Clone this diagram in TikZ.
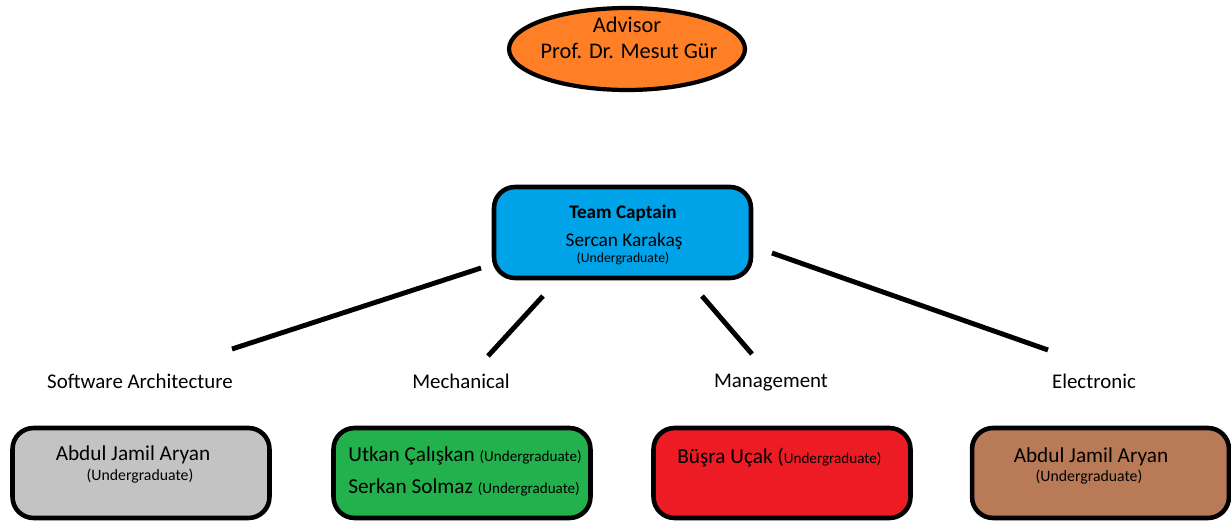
\documentclass[tikz,border=0pt]{standalone}
\usepackage{fontspec}
\setmainfont{Carlito}
\usetikzlibrary{shapes.geometric}

\definecolor{advorange}{RGB}{255,127,39}
\definecolor{capblue}{RGB}{0,162,232}
\definecolor{softgray}{RGB}{195,195,195}
\definecolor{mechgreen}{RGB}{34,177,76}
\definecolor{mgmtred}{RGB}{237,28,36}
\definecolor{elecbrown}{RGB}{185,122,87}

\begin{document}
\begin{tikzpicture}[x=0.02cm,y=-0.02cm]
\tikzset{
  advisornode/.style={ellipse,draw,line width=2.4pt,fill=advorange,minimum width=4.72cm,minimum height=1.64cm,inner sep=0pt},
  teambox/.style={rectangle,rounded corners=0.42cm,draw,line width=2.6pt,minimum width=5.14cm,minimum height=1.8cm,inner sep=0pt},
  branch/.style={line width=2.8pt},
  field/.style={font=\fontsize{11.9}{13}\selectfont,inner sep=0pt},
  person/.style={font=\fontsize{12.1}{15}\selectfont,inner sep=0pt},
  grad/.style={font=\fontsize{9}{10}\selectfont,inner sep=0pt}
}
\useasboundingbox (0,0) rectangle (1231,521);
% advisor
\node[advisornode] (n_adv) at (627,49) {};
\node[person,font=\fontsize{12.7}{15}\selectfont] (t_adv1) at (627,25) {Advisor};
\node[person,font=\fontsize{12.7}{15}\selectfont] (t_adv2) at (629,51) {Prof. Dr. Mesut Gür};
% captain
\node[teambox,fill=capblue,minimum height=1.82cm] (n_cap) at (622.5,232.5) {};
\node[person,font=\fontsize{10.9}{14}\selectfont\bfseries] (t_cap1) at (623,213) {Team Captain};
\node[person,font=\fontsize{11}{14}\selectfont] (t_cap2) at (624,241) {Sercan Karakaş};
\node[grad,font=\fontsize{7.8}{9}\selectfont] (t_cap3) at (623,259) {(Undergraduate)};
% branch lines
\coordinate (c_sw_a) at (232,349);
\coordinate (c_sw_b) at (481,268);
\coordinate (c_me_a) at (488,356);
\coordinate (c_me_b) at (543,296);
\coordinate (c_ma_a) at (702,296);
\coordinate (c_ma_b) at (752,354);
\coordinate (c_el_a) at (772,253);
\coordinate (c_el_b) at (1048,350);
\draw[branch] (c_sw_a) -- (c_sw_b);
\draw[branch] (c_me_a) -- (c_me_b);
\draw[branch] (c_ma_a) -- (c_ma_b);
\draw[branch] (c_el_a) -- (c_el_b);
% fields
\node[field] (f_sw) at (140,381) {Software Architecture};
\node[field] (f_me) at (461,381) {Mechanical};
\node[field] (f_ma) at (771,383) {Management};
\node[field] (f_el) at (1094,381) {Electronic};
% members
\node[teambox,fill=softgray] (n_sw) at (141,473) {};
\node[person] (t_sw1) at (133,455) {Abdul Jamil Aryan};
\node[grad] (t_sw2) at (140,476) {(Undergraduate)};
\node[teambox,fill=mechgreen] (n_me) at (462,473) {};
\node[person,anchor=west] (t_me1) at (348,456) {Utkan Çalışkan {\fontsize{8.6}{10}\selectfont(Undergraduate)}};
\node[person,anchor=west] (t_me2) at (348,487) {Serkan Solmaz {\fontsize{8.6}{10}\selectfont(Undergraduate)}};
\node[teambox,fill=mgmtred] (n_ma) at (782,473) {};
\node[person,anchor=west] (t_ma1) at (677,458) {Büşra Uçak ({\fontsize{8.6}{10}\selectfont Undergraduate)}};
\node[teambox,fill=elecbrown] (n_el) at (1100.5,473) {};
\node[person] (t_el1) at (1091,457) {Abdul Jamil Aryan};
\node[grad] (t_el2) at (1089,477) {(Undergraduate)};
\end{tikzpicture}
\end{document}
